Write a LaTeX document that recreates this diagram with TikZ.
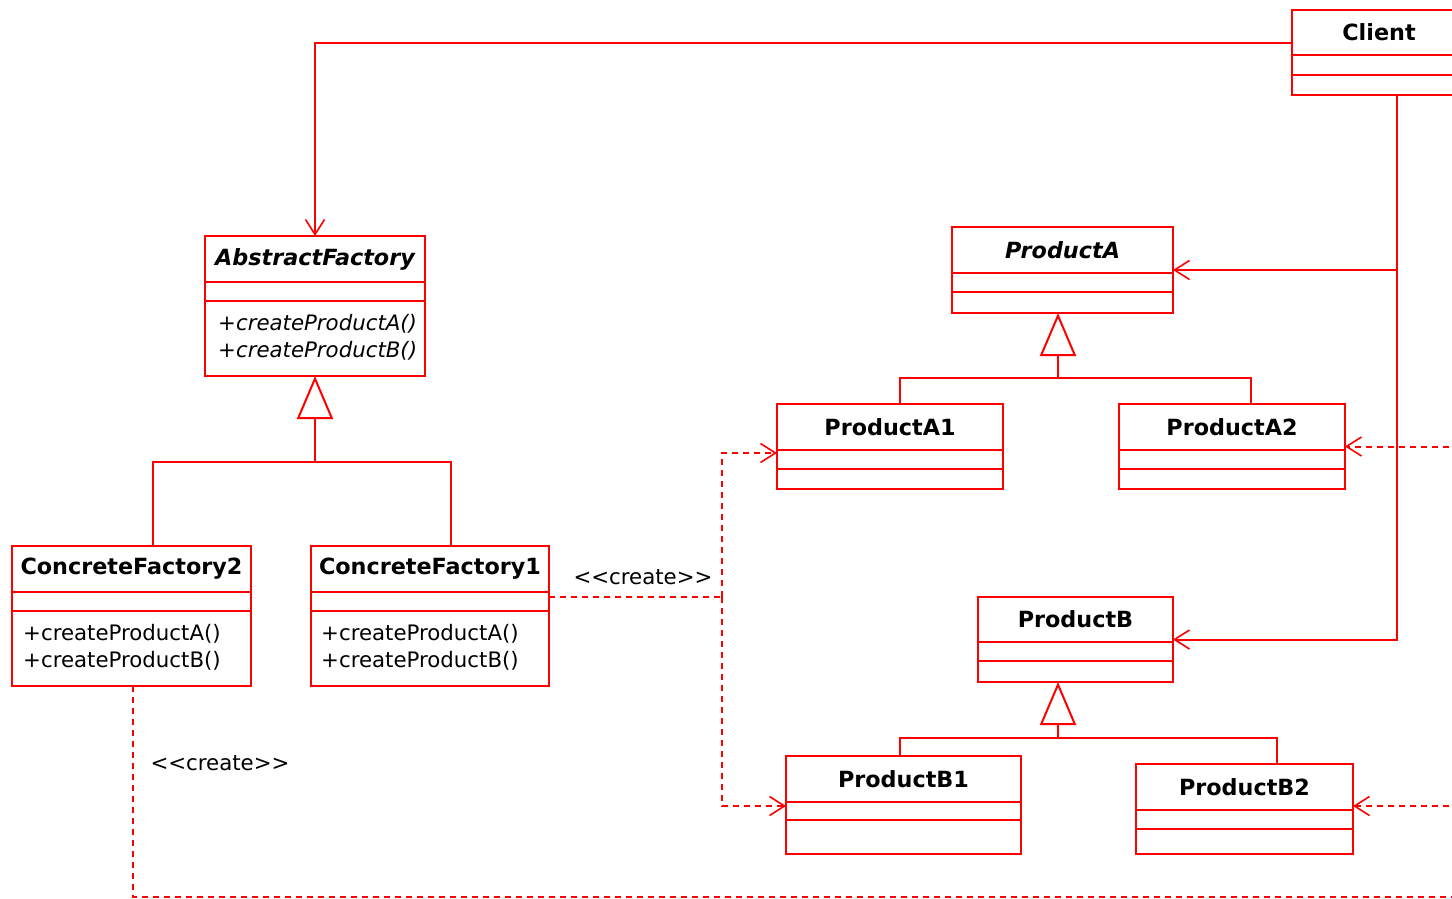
\documentclass[tikz,border=0pt]{standalone}
\usepackage{fontspec}
\setmainfont{DejaVu Sans}
\usetikzlibrary{arrows.meta}
\definecolor{umlred}{RGB}{255,0,0}
\tikzset{
  umlline/.style={draw=umlred, line width=2pt},
  cls/.style={umlline, rectangle, inner sep=0pt, outer sep=0pt},
  ctitle/.style={font=\fontsize{22.3}{26}\selectfont\bfseries, inner sep=0pt, text=black},
  meth/.style={font=\fontsize{21.3}{27}\selectfont, align=left, anchor=west, inner sep=0pt, text=black},
  imeth/.style={meth, font=\fontsize{21.3}{27}\selectfont\itshape},
  assoc/.style={umlline, -{Straight Barb[length=15pt,width=19pt,line width=1.6pt]}},
  dep/.style={umlline, dash pattern=on 6pt off 5pt, -{Straight Barb[length=15pt,width=19pt,line width=1.6pt]}},
  depline/.style={umlline, dash pattern=on 6pt off 5pt},
  inh/.style={umlline, -{Triangle[open,length=43pt,width=36pt,line width=2pt]}},
  lbl/.style={font=\fontsize{21.3}{26}\selectfont, inner sep=0pt, text=black}
}
\newcommand{\umlclass}[8]{%
  \node[cls, minimum width={(#4-#2)*1pt}, minimum height={(#5-#3)*1pt}] (#1) at ({(#2+#4)/2},{(#3+#5)/2}) {};
  \draw[umlline] (#1.west |- 0,#6) -- (#1.east |- 0,#6);
  \draw[umlline] (#1.west |- 0,#7) -- (#1.east |- 0,#7);
  \node[ctitle] (#1-t) at ({(#2+#4)/2},{(#3+#6)/2}) {#8};
}
\begin{document}
\begin{tikzpicture}[x=1pt,y=-1pt]
\useasboundingbox (0,0) rectangle (1452,899);
\clip (0,0) rectangle (1452,899);
\umlclass{Client}{1292}{10}{1466}{95}{55}{75}{Client}
\umlclass{AF}{205}{236}{425}{376}{282}{301}{\itshape AbstractFactory}
\umlclass{CF2}{12}{546}{251}{686}{592}{611}{ConcreteFactory2}
\umlclass{CF1}{311}{546}{549}{686}{592}{611}{ConcreteFactory1}
\umlclass{PA}{952}{227}{1173}{313}{273}{292}{\itshape ProductA}
\umlclass{PA1}{777}{404}{1003}{489}{450}{469}{ProductA1}
\umlclass{PA2}{1119}{404}{1345}{489}{450}{469}{ProductA2}
\umlclass{PB}{978}{597}{1173}{682}{642}{661}{ProductB}
\umlclass{PB1}{786}{756}{1021}{854}{802}{820}{ProductB1}
\umlclass{PB2}{1136}{764}{1353}{854}{810}{829}{ProductB2}
% methods
\node[imeth] (AF-m) at (218,337) {+createProductA()\\+createProductB()};
\node[meth] (CF2-m) at (23,647) {+createProductA()\\+createProductB()};
\node[meth] (CF1-m) at (321,647) {+createProductA()\\+createProductB()};
% labels
\node[lbl] (L1) at (643,577) {{<}{<}create{>}{>}};
\node[lbl] (L2) at (220,763) {{<}{<}create{>}{>}};
% client associations
\draw[assoc] (Client.west |- 0,43) -| (AF.north);
\coordinate (cv) at (1397,0);
\draw[assoc] (cv |- Client.south) |- (PB.east);
\draw[assoc] (cv |- PA.east) -- (PA.east);
% dependencies from the right
\coordinate (rr) at (1460,0);
\draw[dep] (rr |- PA2.east) -- (PA2.east);
\draw[dep] (rr |- 0,806) -- (PB2.east |- 0,806);
% ConcreteFactory1 creates
\coordinate (j) at (722,597);
\draw[depline] (CF1.east |- j) -- (j);
\draw[dep] (j) |- (PA1.west |- 0,453);
\draw[dep] (j) |- (PB1.west |- 0,806);
% ConcreteFactory2 creates
\draw[depline] (133,0 |- CF2.south) |- (rr |- 0,897);
% inheritance
\coordinate (afj) at (315,462);
\draw[inh] (afj) -- (AF.south);
\draw[umlline] (153,0 |- CF2.north) |- (afj) -| (451,0 |- CF1.north);
\coordinate (paj) at (1058,378);
\draw[inh] (paj) -- (1058,0 |- PA.south);
\draw[umlline] (900,0 |- PA1.north) |- (paj) -| (1251,0 |- PA2.north);
\coordinate (pbj) at (1058,738);
\draw[inh] (pbj) -- (1058,0 |- PB.south);
\draw[umlline] (900,0 |- PB1.north) |- (pbj) -| (1277,0 |- PB2.north);
\end{tikzpicture}
\end{document}
